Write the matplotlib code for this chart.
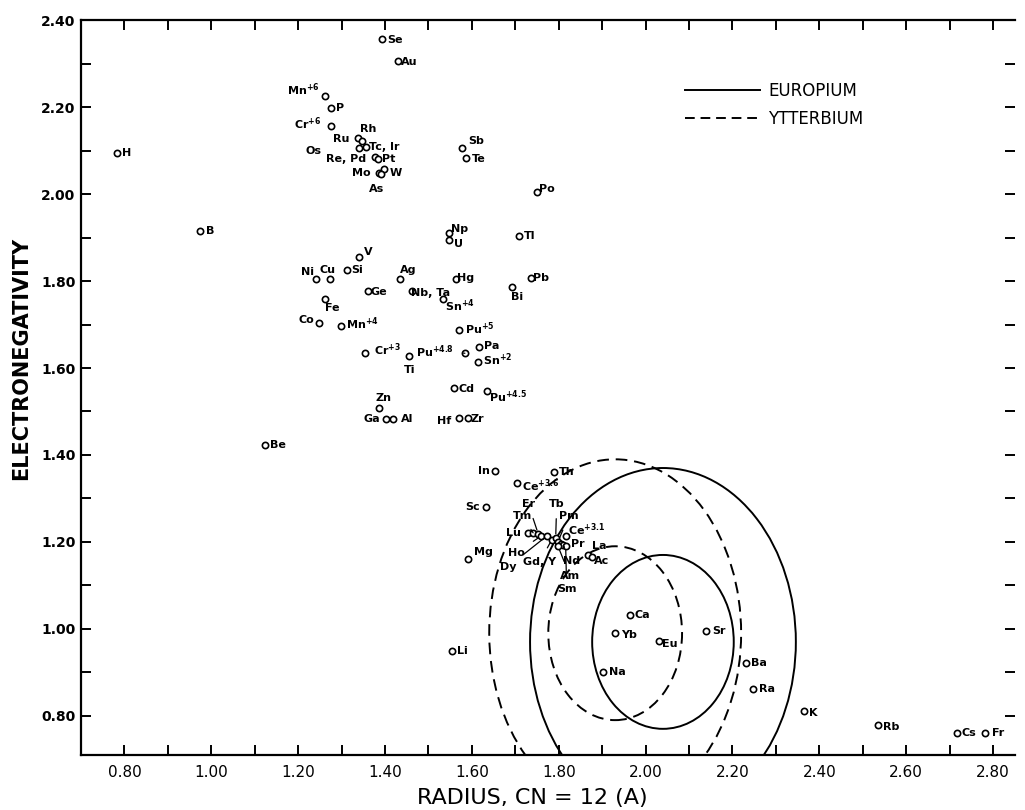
import numpy as np
import matplotlib
matplotlib.use("Agg")
from matplotlib import pyplot as plt
from matplotlib.patches import Ellipse
from matplotlib.lines import Line2D
from matplotlib.ticker import MultipleLocator, FuncFormatter

plt.rcParams['mathtext.fontset'] = 'dejavusans'
plt.rcParams['mathtext.default'] = 'bf'

# Elementos: nombre, radio (CN=12) y electronegatividad
elementos = ["H", "B", "Be", "Se", "Au", "Mn$^{+6}$", "P", "Cr$^{+6}$", "Ru", "Rh",
             "Tc, Ir", "Os", "Re, Pd", "Pt", "Mo", "W", "As", "Sb", "Te", "Po",
             "Np", "U", "Tl", "V", "Ni", "Cu", "Si", "Ag", "Hg", "Pb",
             "Bi", "Ge", "Nb, Ta", "Sn$^{+4}$", "Fe", "Co", "Mn$^{+4}$", "Pu$^{+5}$", "Pa", "Cr$^{+3}$",
             "Pu$^{+4.8}$", "Sn$^{+2}$", "Ti", "Cd", "Pu$^{+4.5}$", "Zn", "Ga", "Al", "Hf", "Zr",
             "In", "Th", "Ce$^{+3.6}$", "Sc", "Mg", "Lu", "Tm", "Er", "Ho", "Dy",
             "Gd, Y", "Tb", "Pm", "Pr", "Nd", "Am", "Sm", "Ce$^{+3.1}$", "La", "Ac",
             "Li", "Na", "Ca", "Yb", "Eu", "Sr", "Ba", "Ra", "K", "Rb",
             "Cs", "Fr"]
radio = [0.784, 0.975, 1.123, 1.393, 1.431, 1.261, 1.275, 1.275, 1.337, 1.348,
         1.357, 1.339, 1.376, 1.383, 1.386, 1.397, 1.391, 1.577, 1.587, 1.750,
         1.548, 1.548, 1.709, 1.340, 1.242, 1.273, 1.313, 1.435, 1.563, 1.737,
         1.692, 1.360, 1.462, 1.533, 1.263, 1.248, 1.299, 1.571, 1.617, 1.353,
         1.584, 1.614, 1.456, 1.559, 1.636, 1.386, 1.403, 1.419, 1.571, 1.590,
         1.653, 1.789, 1.704, 1.633, 1.592, 1.730, 1.741, 1.753, 1.760, 1.773,
         1.784, 1.793, 1.798, 1.805, 1.811, 1.798, 1.816, 1.816, 1.867, 1.876,
         1.554, 1.902, 1.963, 1.930, 2.030, 2.139, 2.232, 2.248, 2.364, 2.534,
         2.716, 2.782]
electroneg = [2.094, 1.916, 1.423, 2.356, 2.306, 2.226, 2.197, 2.156, 2.129, 2.122,
              2.108, 2.106, 2.086, 2.080, 2.049, 2.057, 2.046, 2.105, 2.084, 2.004,
              1.910, 1.894, 1.904, 1.856, 1.805, 1.805, 1.825, 1.804, 1.805, 1.806,
              1.786, 1.777, 1.778, 1.758, 1.758, 1.704, 1.697, 1.687, 1.648, 1.635,
              1.634, 1.614, 1.628, 1.555, 1.546, 1.507, 1.483, 1.483, 1.484, 1.484,
              1.362, 1.360, 1.335, 1.281, 1.161, 1.221, 1.221, 1.218, 1.214, 1.214,
              1.205, 1.209, 1.200, 1.195, 1.192, 1.191, 1.191, 1.214, 1.170, 1.166,
              0.950, 0.900, 1.031, 0.991, 0.971, 0.995, 0.921, 0.862, 0.811, 0.779,
              0.760, 0.760]

# Elipses de Darken-Gurry (Europio y Yterbio)
nombres_elipse = ["EUROPIUM", "YTTERBIUM"]
centro_radio = [2.04, 1.93]
centro_electroneg = [0.97, 0.99]
semi_radio_ext = [0.306, 0.29]
semi_radio_int = [0.163, 0.154]
semi_en_ext = [0.40, 0.40]
semi_en_int = [0.20, 0.20]

# Desplazamiento de cada etiqueta (pixeles) respecto al circulo
desplaz = {"H": (9, 0), "B": (10, 0), "Be": (13, 0), "Se": (13, -1), "Au": (11, -1),
           "Mn$^{+6}$": (-21, 6), "P": (9, 0), "Cr$^{+6}$": (-23, 3), "Ru": (-16, -1),
           "Rh": (6, 12), "Tc, Ir": (18, 0), "Os": (-45, -3), "Re, Pd": (-29, -2),
           "Pt": (11, 0), "Mo": (-18, 0), "W": (12, -4), "As": (-5, -15),
           "Sb": (14, 7), "Te": (13, -1), "Po": (10, 3), "Np": (10, 4), "U": (9, -4),
           "Tl": (10, 0), "V": (9, 5), "Ni": (-9, 7), "Cu": (-2, 9), "Si": (10, 0),
           "Ag": (8, 9), "Hg": (10, 1), "Pb": (10, 0), "Bi": (5, -10), "Ge": (11, -1),
           "Nb, Ta": (19, -2), "Sn$^{+4}$": (17, -6), "Fe": (7, -9), "Co": (-13, 3),
           "Mn$^{+4}$": (21, 2), "Pu$^{+5}$": (21, 2), "Pa": (12, 1), "Cr$^{+3}$": (23, 3),
           "Pu$^{+4.8}$": (-30, 2), "Sn$^{+2}$": (20, 2), "Ti": (0, -14), "Cd": (12, -1),
           "Pu$^{+4.5}$": (20, -5), "Zn": (5, 10), "Ga": (-14, 0), "Al": (14, 0),
           "Hf": (-15, -3), "Zr": (10, -1), "In": (-11, 0), "Th": (13, 0),
           "Ce$^{+3.6}$": (24, -2), "Sc": (-14, 0), "Mg": (15, 7), "Lu": (-15, 0),
           "Tm": (-11, 17), "Er": (-10, 30), "Ho": (-25, -17), "Dy": (-39, -31),
           "Gd, Y": (-12, -22), "Tb": (1, 34), "Pm": (11, 26), "Pr": (17, 0),
           "Nd": (8, -16), "Am": (12, -30), "Sm": (1, -43), "Ce$^{+3.1}$": (21, 6),
           "La": (11, 9), "Ac": (10, -4), "Li": (10, 0), "Na": (14, 0), "Ca": (13, 0),
           "Yb": (14, -2), "Eu": (11, -3), "Sr": (13, 0), "Ba": (13, 0), "Ra": (14, 0),
           "K": (10, -2), "Rb": (14, -2), "Cs": (12, 0), "Fr": (13, 0)}
con_linea = ["Tm", "Er", "Ho", "Dy", "Gd, Y", "Tb", "Pm", "Nd", "Am", "Sm", "Pu$^{+4.8}$"]

fig = plt.figure(figsize=(10.25, 8.1), dpi=100)
ax = fig.add_axes([0.079, 0.068, 0.911, 0.907])

ax.plot(radio, electroneg, 'o', ls='none', mfc='white', mec='black', ms=4.5, mew=1.2, zorder=3)

for nombre, x, y in zip(elementos, radio, electroneg):
    dx, dy = desplaz.get(nombre, (10, 0))
    props = None
    if nombre in con_linea:
        props = dict(arrowstyle='-', lw=0.9, color='black', shrinkA=5, shrinkB=3)
    ax.annotate(nombre, xy=(x, y), xytext=(dx, dy), textcoords='offset pixels',
                ha='center', va='center', fontsize=8, fontweight='bold',
                arrowprops=props, zorder=4)

estilos = ['-', (0, (6, 3.5))]
for i in range(2):
    for sx, sy in [(semi_radio_ext[i], semi_en_ext[i]), (semi_radio_int[i], semi_en_int[i])]:
        e = Ellipse((centro_radio[i], centro_electroneg[i]), 2 * sx, 2 * sy,
                    fill=False, lw=1.4, ls=estilos[i], ec='black', zorder=2)
        ax.add_patch(e)

manejadores = [Line2D([0], [0], color='black', lw=1.4, ls='-'),
               Line2D([0], [0], color='black', lw=1.4, ls=(0, (5, 3)))]
ax.legend(manejadores, nombres_elipse, loc='upper left', bbox_to_anchor=(0.647, 0.916),
          frameon=False, handlelength=4.5, handletextpad=0.5, labelspacing=0.6,
          borderpad=0, borderaxespad=0, prop={'size': 12})

ax.set_xlim(0.70, 2.85)
ax.set_ylim(0.71, 2.40)

def etiqueta(v, pos):
    n = int(round(v * 10))
    if n % 2 == 0 and n >= 8:
        return "%.2f" % v
    return ""

ax.set_xticks(np.arange(0.8, 2.81, 0.1))
ax.set_yticks(np.arange(0.8, 2.41, 0.1))
ax.xaxis.set_major_formatter(FuncFormatter(etiqueta))
ax.yaxis.set_major_formatter(FuncFormatter(etiqueta))

ax.tick_params(axis='both', direction='in', length=7, width=1.4, top=True, right=True)
ax.tick_params(axis='x', labelsize=11, pad=7)
ax.tick_params(axis='y', labelsize=10, pad=4)
for t in ax.get_yticklabels():
    t.set_fontweight('bold')
ax.spines['right'].set_visible(False)
for s in ['left', 'bottom', 'top']:
    ax.spines[s].set_linewidth(1.6)

ax.set_xlabel("RADIUS, CN = 12 (A)", fontsize=16)
ax.xaxis.set_label_coords(0.483, -0.045)
ax.set_ylabel("ELECTRONEGATIVITY", fontsize=15, fontweight='bold')
ax.yaxis.set_label_coords(-0.053, 0.54)

plt.savefig("out.png", dpi=100)
